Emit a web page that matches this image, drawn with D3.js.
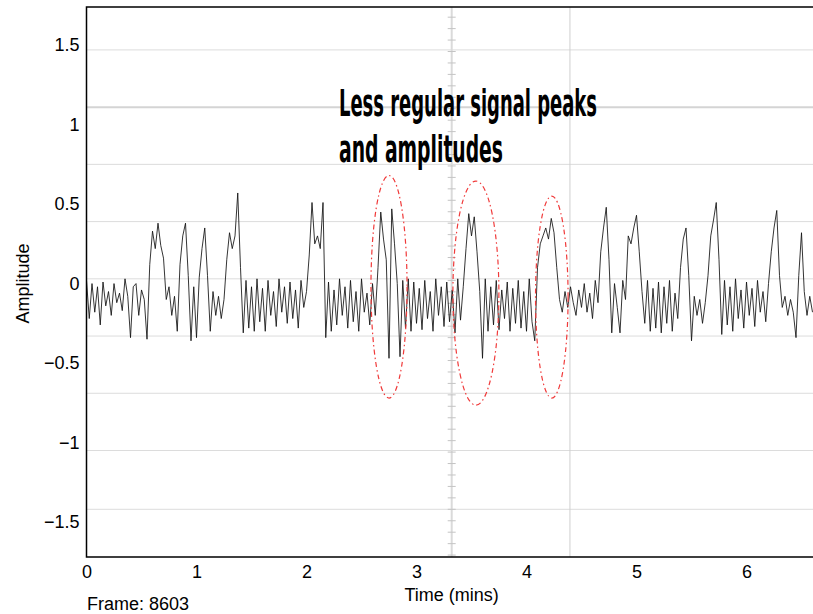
<!DOCTYPE html>
<html>
<head>
<meta charset="utf-8">
<script src="https://cdn.jsdelivr.net/npm/d3@7"></script>
<style>
  body { margin: 0; background: #fff; }
  svg { display: block; }
</style>
</head>
<body>
<svg id="chart" width="813" height="614"></svg>
<script>
// amplitude samples, one every 0.025 min from t = 0
var sampleStep = 0.025
var amplitude = [
  0.02, -0.22, 0.0, -0.18, -0.02, -0.26, 0.01, -0.14, -0.05, -0.2, 0.0, -0.12, -0.06, -0.17, 0.03, -0.08,
  -0.34, -0.02, 0.0, -0.2, -0.04, -0.1, -0.35, 0.12, 0.33, 0.22, 0.38, 0.24, 0.16,
  -0.1, -0.02, -0.2, -0.08, -0.3, 0.12, 0.3, 0.38, 0.05, -0.36, -0.02, -0.34, 0.04, 0.22, 0.35, 0.05, -0.3,
  -0.05, -0.2, -0.08, -0.22, -0.1, 0.15, 0.32, 0.22, 0.3, 0.57, 0.1, -0.31,
  0.02, -0.28, -0.02, -0.3, 0.03, -0.24, -0.03, -0.3, 0.02, -0.2, -0.05, -0.27, 0.03, -0.18, -0.02, -0.25,
  0.01, -0.22, -0.04, -0.28, 0.02, -0.15, -0.05,
  0.18, 0.51, 0.25, 0.3, 0.22, 0.51, -0.34,
  0.01, -0.3, -0.04, -0.26, 0.03, -0.2, -0.02, -0.28, 0.02, -0.24, -0.05, -0.3, 0.03, -0.18, -0.06, -0.26,
  0.0, -0.2, 0.1, 0.45, 0.28, 0.15, -0.47, 0.47, 0.25, 0.0, -0.46, 0.02, -0.28, 0.03,
  -0.3, 0.01, -0.25, -0.03, -0.29, 0.02, -0.22, -0.05, -0.3, 0.03, -0.2, -0.02, -0.27, 0.01, -0.24, -0.04,
  -0.31, 0.03, -0.23, -0.02,
  0.22, 0.44, 0.3, 0.42, 0.2, -0.05, -0.47,
  0.03, -0.3, -0.02, -0.26, 0.02, -0.29, -0.04, -0.22, 0.01, -0.3, -0.03, -0.25, 0.02, -0.28, -0.05, -0.3,
  0.03, -0.24, -0.36,
  0.1, 0.25, 0.3, 0.35, 0.28, 0.41, 0.32, 0.1,
  -0.1, -0.18, -0.05, -0.15, -0.02, -0.12, -0.2, -0.04, -0.15, 0.0, -0.18, -0.06, -0.22, 0.02, -0.12,
  0.2, 0.35, 0.48, 0.15, -0.31, 0.0, -0.15, -0.31, 0.02, -0.1, 0.3, 0.25, 0.35, 0.43, 0.2,
  -0.05, -0.25, 0.02, -0.3, -0.03, -0.28, 0.01, -0.31, -0.02, -0.25, 0.02, -0.3, -0.06, -0.22,
  0.1, 0.28, 0.35, 0.05, -0.36, -0.08, -0.2, -0.1, -0.25, -0.12, 0.05, 0.3, 0.4, 0.51, 0.15, -0.32,
  0.02, -0.26, -0.02, -0.3, 0.03, -0.22, -0.04, -0.28, 0.01, -0.2, -0.03, -0.27, 0.02, -0.18, -0.05, -0.24, 0.0,
  0.2, 0.35, 0.46, 0.05, -0.15, -0.08, -0.2, -0.1, -0.18, -0.34, 0.05, 0.32, -0.05, -0.2, -0.08, -0.18
]

var xTicks = [0, 1, 2, 3, 4, 5, 6]
var yTicks = [-1.5, -1, -0.5, 0, 0.5, 1, 1.5]
var gridLevels = [1.47, 1.11, 0.75, 0.39, 0.03, -0.33, -0.69, -1.05, -1.42]
var markerTimes = [3.32, 4.395]

var ellipseTime = [2.75, 3.54, 4.23]
var ellipseAmp = [-0.02, -0.06, -0.085]
var ellipseHalfWidth = [0.164, 0.209, 0.148]
var ellipseHalfHeight = [0.70, 0.705, 0.635]

var noteLines = ["Less regular signal peaks", "and amplitudes"]

var plotLeft = 86.5, plotRight = 812.5, plotTop = 7, plotBottom = 557

var x = d3.scaleLinear().domain([0, 6.6]).range([plotLeft, plotRight])
var y = d3.scaleLinear().domain([-1.72, 1.74]).range([plotBottom, plotTop])

var svg = d3.select('#chart')
var font = 'Liberation Sans, Arial, sans-serif'

// background grid
svg.append('g').selectAll('line')
    .data(gridLevels)
    .enter().append('line')
    .attr('x1', plotLeft).attr('x2', 813)
    .attr('y1', function (d) { return y(d) }).attr('y2', function (d) { return y(d) })
    .attr('stroke', function (d, i) { return i == 1 ? '#d4d4d4' : '#dcdcdc' })
    .attr('stroke-width', function (d, i) { return i == 1 ? 2 : 1 })

svg.append('line')
    .attr('x1', x(markerTimes[1])).attr('x2', x(markerTimes[1]))
    .attr('y1', plotTop).attr('y2', plotBottom)
    .attr('stroke', '#cfcfcf').attr('stroke-width', 1)

svg.append('line')
    .attr('x1', x(markerTimes[0])).attr('x2', x(markerTimes[0]))
    .attr('y1', plotTop).attr('y2', plotBottom)
    .attr('stroke', '#dadada').attr('stroke-width', 2)

// minor ticks on the centre line
var minorStep = (gridLevels[0] - gridLevels[1]) / 5
var minor = d3.range(gridLevels[8] - minorStep * 4, 1.74, minorStep)
svg.append('g').selectAll('line')
    .data(minor)
    .enter().append('line')
    .attr('x1', x(markerTimes[0]) - 4).attr('x2', x(markerTimes[0]) + 4)
    .attr('y1', function (d) { return y(d) }).attr('y2', function (d) { return y(d) })
    .attr('stroke', '#c4c4c4').attr('stroke-width', 1)

// signal
var line = d3.line()
    .x(function (d, i) { return x(i * sampleStep) })
    .y(function (d) { return y(d) })

svg.append('path')
    .datum(amplitude)
    .attr('d', line)
    .attr('fill', 'none')
    .attr('stroke', '#111')
    .attr('stroke-width', 0.85)

// ellipses
svg.append('g').selectAll('ellipse')
    .data(ellipseTime)
    .enter().append('ellipse')
    .attr('cx', function (d) { return x(d) })
    .attr('cy', function (d, i) { return y(ellipseAmp[i]) })
    .attr('rx', function (d, i) { return x(d + ellipseHalfWidth[i]) - x(d) })
    .attr('ry', function (d, i) { return y(0) - y(ellipseHalfHeight[i]) })
    .attr('fill', 'none')
    .attr('stroke', '#f03a3a')
    .attr('stroke-width', 1.2)
    .attr('stroke-dasharray', '5,3,1.5,3')

// frame
svg.append('path')
    .attr('d', 'M813,' + plotTop + 'H' + plotLeft + 'V' + plotBottom + 'H813')
    .attr('fill', 'none')
    .attr('stroke', '#000')
    .attr('stroke-width', 1.5)

// axes
var yAxis = svg.append('g')
    .attr('transform', 'translate(' + plotLeft + ',0)')
    .call(d3.axisLeft(y).tickValues(yTicks).tickSize(0).tickPadding(7)
        .tickFormat(function (d) { return d3.format('')(d).replace('-', '\u2212') }))
yAxis.select('.domain').remove()
yAxis.selectAll('text').attr('font-family', font).attr('font-size', 18).attr('fill', '#000')

var xAxis = svg.append('g')
    .attr('transform', 'translate(0,' + plotBottom + ')')
    .call(d3.axisBottom(x).tickValues(xTicks).tickSize(0).tickPadding(8).tickFormat(d3.format('d')))
xAxis.select('.domain').remove()
xAxis.selectAll('text').attr('font-family', font).attr('font-size', 18).attr('fill', '#000')

svg.append('text')
    .attr('x', x(markerTimes[0])).attr('y', 601)
    .attr('text-anchor', 'middle')
    .attr('font-family', font).attr('font-size', 18)
    .text('Time (mins)')

svg.append('text')
    .attr('transform', 'translate(29,' + y(0) + ') rotate(-90)')
    .attr('text-anchor', 'middle')
    .attr('font-family', font).attr('font-size', 18)
    .text('Amplitude')

svg.append('text')
    .attr('x', 87).attr('y', 610)
    .attr('font-family', font).attr('font-size', 18)
    .text('Frame: 8603')

// annotation
svg.append('g').selectAll('text')
    .data(noteLines)
    .enter().append('text')
    .attr('x', 339)
    .attr('y', function (d, i) { return i == 0 ? 116 : 162 })
    .attr('textLength', function (d, i) { return i == 0 ? 258 : 164 })
    .attr('lengthAdjust', 'spacingAndGlyphs')
    .attr('font-family', 'Liberation Sans Narrow, DejaVu Sans Condensed, sans-serif')
    .attr('font-weight', 'bold')
    .attr('font-size', 38)
    .attr('fill', '#000')
    .text(function (d) { return d })
</script>
</body>
</html>
